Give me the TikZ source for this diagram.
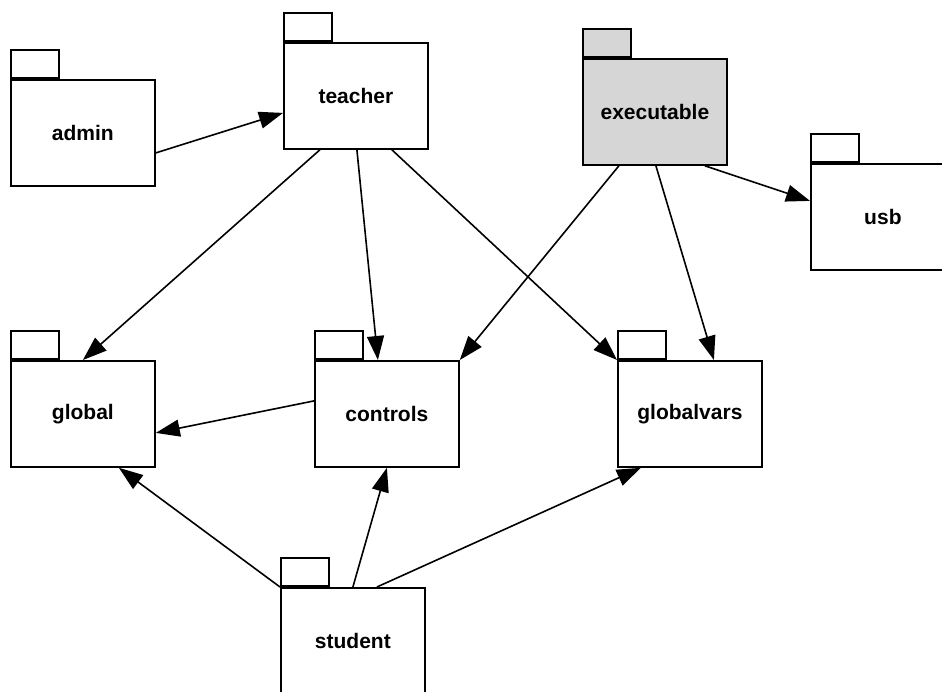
\documentclass[tikz,border=0pt]{standalone}
\usepackage{fontspec}
\setmainfont{Liberation Sans}
\usetikzlibrary{arrows.meta}
\begin{document}
\begin{tikzpicture}[x=1pt,y=-1pt,
  pkgbody/.style={draw=black,line width=1.8pt,fill=white,minimum width=144pt,minimum height=106pt,
    inner sep=0pt,anchor=north west,font=\bfseries\fontsize{21}{25}\selectfont},
  pkgtab/.style={draw=black,line width=1.8pt,fill=white,minimum width=48pt,minimum height=28pt,
    inner sep=0pt,anchor=south west},
  dep/.style={draw=black,line width=1.6pt,-{Triangle[length=24pt,width=17pt]}}]
\useasboundingbox (0,0) rectangle (942,691);
% packages: tab on top-left, body with label
\newcommand{\pkg}[5][white]{%
  \node[pkgtab,fill=#1] (#2tab) at (#3,#4) {};
  \node[pkgbody,fill=#1] (#2) at (#3,#4) {#5};}
\pkg{admin}{10}{79}{admin}
\pkg{teacher}{283}{42}{teacher}
\pkg[black!16]{executable}{582}{58}{executable}
\pkg{usb}{810}{163}{usb}
\pkg{global}{10}{360}{global}
\pkg{controls}{314}{360}{controls}
\pkg{globalvars}{617}{360}{globalvars}
\pkg{student}{280}{587}{student}
% dependencies
\draw[dep] ([yshift=-20pt]admin.east) -- ([yshift=-17pt]teacher.west);
\draw[dep] ([xshift=-36pt]teacher.south) -- (global.north);
\draw[dep] ([xshift=1pt]teacher.south) -- ([xshift=-9pt]controls.north);
\draw[dep] ([xshift=36pt]teacher.south) -- (globalvars.north west);
\draw[dep] ([xshift=-36pt]executable.south) -- (controls.north east);
\draw[dep] ([xshift=1pt]executable.south) -- ([xshift=24pt]globalvars.north);
\draw[dep] ([xshift=50pt]executable.south) -- ([yshift=16pt]usb.west);
\draw[dep] ([yshift=13pt]controls.west) -- ([yshift=-19pt]global.east);
\draw[dep] (student.north west) -- ([xshift=36pt]global.south);
\draw[dep] (student.north) -- (controls.south);
\draw[dep] ([xshift=24pt]student.north) -- ([xshift=-49pt]globalvars.south);
\end{tikzpicture}
\end{document}
